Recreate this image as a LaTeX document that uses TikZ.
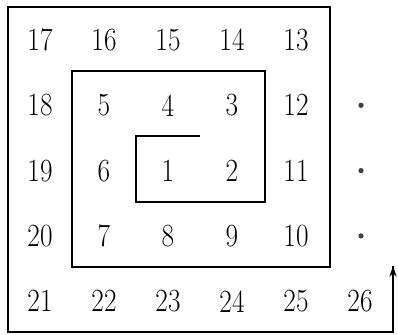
\documentclass[tikz,border=0pt]{standalone}
\usetikzlibrary{arrows.meta}
\begin{document}
\begin{tikzpicture}[x=0.02cm,y=-0.02cm,
  num/.style={inner sep=0pt,font=\fontsize{16}{16}\selectfont},
  spiral/.style={line width=0.8pt,line join=miter},
  dotmark/.style={circle,fill=black!75,inner sep=0pt,minimum size=3pt}]
\useasboundingbox (0,0) rectangle (398,334);
% numbers
\foreach \n/\c/\r in {17/0/0,16/1/0,15/2/0,14/3/0,13/4/0,
  18/0/1,5/1/1,4/2/1,3/3/1,12/4/1,
  19/0/2,6/1/2,1/2/2,2/3/2,11/4/2,
  20/0/3,7/1/3,8/2/3,9/3/3,10/4/3,
  21/0/4,22/1/4,23/2/4,24/3/4,25/4/4,26/5/4}
  \node[num] (n\n) at ({40+64*\c},{40+65.3*\r}) {\scalebox{0.97}[1.15]{\n}};
\foreach \r in {1,2,3}
  \node[dotmark] (d\r) at (361,{40+65.3*\r}) {};
% spiral corners
\coordinate (s0) at (200,136);
\coordinate (s1) at (136,136);
\coordinate (s2) at (136,202);
\coordinate (s3) at (265,202);
\coordinate (s4) at (265,71);
\coordinate (s5) at (72,71);
\coordinate (s6) at (72,267);
\coordinate (s7) at (330,267);
\coordinate (s8) at (330,7);
\coordinate (s9) at (8,7);
\coordinate (s10) at (8,332);
\coordinate (s11) at (393,332);
\coordinate (s12) at (393,266);
\draw[spiral]
  (s0) -- (s1) -- (s2) -- (s3) -- (s4) -- (s5) -- (s6) -- (s7)
  -- (s8) -- (s9) -- (s10) -- (s11) -- (s12);
\draw[line width=0.6pt,-{Stealth[length=6pt,width=4pt]}] (s11) -- (s12);
\end{tikzpicture}
\end{document}
